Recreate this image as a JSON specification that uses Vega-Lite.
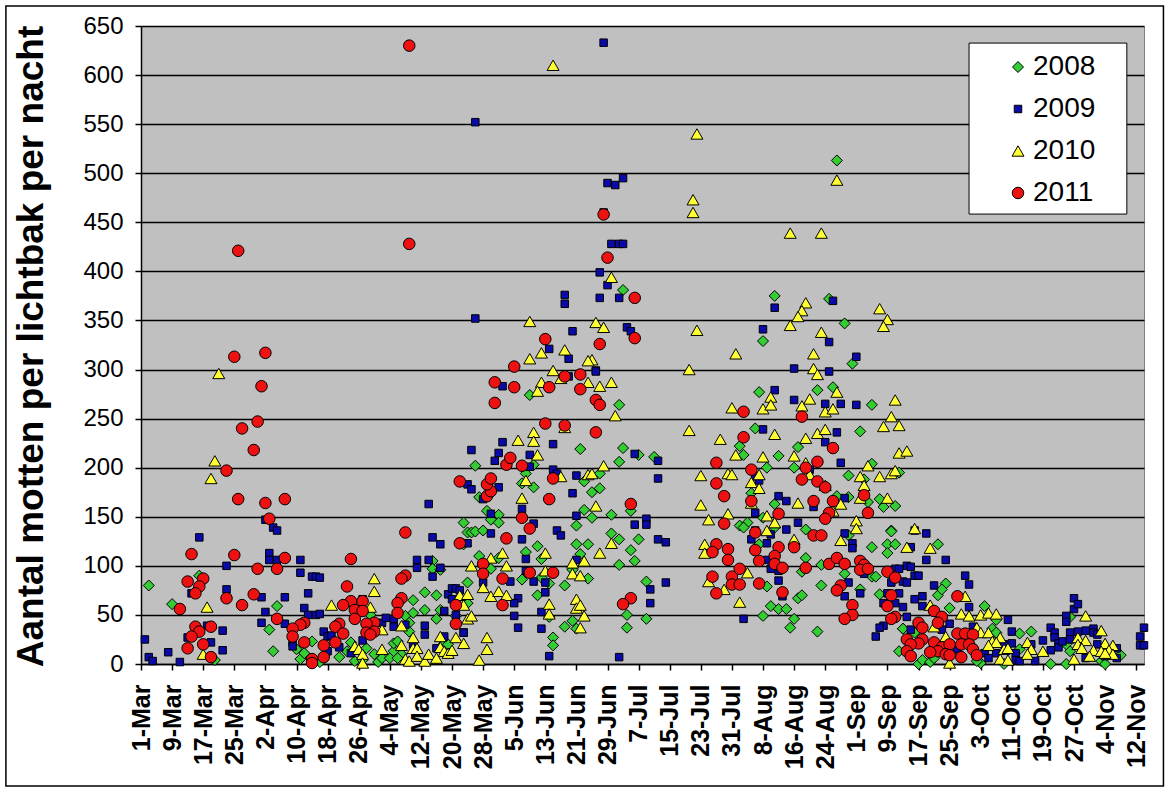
{"$schema":"https://vega.github.io/schema/vega-lite/v6.json","width":1003,"height":638,"autosize":"none","padding":{"left":141,"top":26,"right":31,"bottom":129},"background":"white","view":{"fill":"#C0C0C0","stroke":"#808080"},"config":{"font":"Liberation Sans"},"layer":[{"data":{"values":[{}]},"mark":{"type":"rect","fill":"transparent","stroke":"black","strokeWidth":1.5},"encoding":{"x":{"datum":{"year":2011,"month":1,"date":25,"hours":6,"utc":true},"type":"temporal"},"x2":{"datum":{"year":2011,"month":11,"date":19,"utc":true}},"y":{"datum":-124.3,"type":"quantitative"},"y2":{"datum":670.4}}},{"data":{"values":[{}]},"mark":{"type":"rect","fill":"white","stroke":"black","strokeWidth":1},"encoding":{"x":{"datum":{"year":2011,"month":9,"date":30,"utc":true},"type":"temporal"},"x2":{"datum":{"year":2011,"month":11,"date":9,"hours":14,"utc":true}},"y":{"datum":632.6,"type":"quantitative"},"y2":{"datum":458.4}}},{"data":{"values":[
{"j":"2008","d":"2011-03-03","v":80},{"j":"2008","d":"2011-03-09","v":61},{"j":"2008","d":"2011-03-16","v":90},{"j":"2008","d":"2011-03-20","v":4},{"j":"2008","d":"2011-04-03","v":35},{"j":"2008","d":"2011-04-04","v":13},{"j":"2008","d":"2011-04-05","v":59},{"j":"2008","d":"2011-04-10","v":15},{"j":"2008","d":"2011-04-11","v":5},{"j":"2008","d":"2011-04-12","v":11},{"j":"2008","d":"2011-04-14","v":23},{"j":"2008","d":"2011-04-16","v":2},{"j":"2008","d":"2011-04-21","v":7},{"j":"2008","d":"2011-04-23","v":13},{"j":"2008","d":"2011-04-24","v":22},{"j":"2008","d":"2011-04-25","v":3},{"j":"2008","d":"2011-04-27","v":4},{"j":"2008","d":"2011-04-28","v":16},{"j":"2008","d":"2011-04-29","v":50},{"j":"2008","d":"2011-04-30","v":10},{"j":"2008","d":"2011-05-01","v":2},{"j":"2008","d":"2011-05-02","v":6},{"j":"2008","d":"2011-05-04","v":6},{"j":"2008","d":"2011-05-05","v":13},{"j":"2008","d":"2011-05-05","v":21},{"j":"2008","d":"2011-05-06","v":23},{"j":"2008","d":"2011-05-07","v":10},{"j":"2008","d":"2011-05-06","v":6},{"j":"2008","d":"2011-05-08","v":49},{"j":"2008","d":"2011-05-10","v":65},{"j":"2008","d":"2011-05-10","v":52},{"j":"2008","d":"2011-05-09","v":42},{"j":"2008","d":"2011-05-09","v":33},{"j":"2008","d":"2011-05-13","v":73},{"j":"2008","d":"2011-05-16","v":70},{"j":"2008","d":"2011-05-13","v":55},{"j":"2008","d":"2011-05-16","v":46},{"j":"2008","d":"2011-05-17","v":55},{"j":"2008","d":"2011-05-15","v":105},{"j":"2008","d":"2011-05-15","v":97},{"j":"2008","d":"2011-05-17","v":96},{"j":"2008","d":"2011-05-23","v":144},{"j":"2008","d":"2011-05-23","v":122},{"j":"2008","d":"2011-05-24","v":83},{"j":"2008","d":"2011-05-24","v":62},{"j":"2008","d":"2011-05-24","v":134},{"j":"2008","d":"2011-05-18","v":21},{"j":"2008","d":"2011-05-19","v":20},{"j":"2008","d":"2011-05-21","v":49},{"j":"2008","d":"2011-05-26","v":202},{"j":"2008","d":"2011-05-27","v":170},{"j":"2008","d":"2011-05-29","v":156},{"j":"2008","d":"2011-05-30","v":147},{"j":"2008","d":"2011-06-01","v":152},{"j":"2008","d":"2011-06-01","v":144},{"j":"2008","d":"2011-05-25","v":134},{"j":"2008","d":"2011-05-26","v":135},{"j":"2008","d":"2011-05-28","v":136},{"j":"2008","d":"2011-05-27","v":110},{"j":"2008","d":"2011-05-30","v":97},{"j":"2008","d":"2011-06-01","v":108},{"j":"2008","d":"2011-06-09","v":274},{"j":"2008","d":"2011-06-08","v":194},{"j":"2008","d":"2011-06-07","v":184},{"j":"2008","d":"2011-06-10","v":180},{"j":"2008","d":"2011-06-10","v":203},{"j":"2008","d":"2011-06-08","v":114},{"j":"2008","d":"2011-06-11","v":120},{"j":"2008","d":"2011-06-12","v":107},{"j":"2008","d":"2011-06-07","v":86},{"j":"2008","d":"2011-06-12","v":88},{"j":"2008","d":"2011-06-14","v":82},{"j":"2008","d":"2011-06-11","v":70},{"j":"2008","d":"2011-06-18","v":80},{"j":"2008","d":"2011-06-24","v":87},{"j":"2008","d":"2011-06-21","v":141},{"j":"2008","d":"2011-06-21","v":122},{"j":"2008","d":"2011-06-24","v":122},{"j":"2008","d":"2011-06-22","v":112},{"j":"2008","d":"2011-06-23","v":157},{"j":"2008","d":"2011-06-25","v":149},{"j":"2008","d":"2011-06-30","v":152},{"j":"2008","d":"2011-06-30","v":133},{"j":"2008","d":"2011-07-02","v":127},{"j":"2008","d":"2011-07-02","v":101},{"j":"2008","d":"2011-07-07","v":127},{"j":"2008","d":"2011-07-05","v":116},{"j":"2008","d":"2011-07-06","v":105},{"j":"2008","d":"2011-07-09","v":84},{"j":"2008","d":"2011-07-04","v":50},{"j":"2008","d":"2011-07-09","v":46},{"j":"2008","d":"2011-07-04","v":37},{"j":"2008","d":"2011-07-05","v":156},{"j":"2008","d":"2011-06-23","v":186},{"j":"2008","d":"2011-06-25","v":175},{"j":"2008","d":"2011-06-27","v":179},{"j":"2008","d":"2011-06-27","v":194},{"j":"2008","d":"2011-07-02","v":206},{"j":"2008","d":"2011-07-03","v":220},{"j":"2008","d":"2011-07-07","v":213},{"j":"2008","d":"2011-07-11","v":211},{"j":"2008","d":"2011-07-02","v":264},{"j":"2008","d":"2011-06-22","v":219},{"j":"2008","d":"2011-06-18","v":38},{"j":"2008","d":"2011-06-20","v":44},{"j":"2008","d":"2011-06-21","v":36},{"j":"2008","d":"2011-06-15","v":27},{"j":"2008","d":"2011-06-15","v":19},{"j":"2008","d":"2011-06-14","v":48},{"j":"2008","d":"2011-06-20","v":96},{"j":"2008","d":"2011-07-03","v":381},{"j":"2008","d":"2011-08-27","v":513},{"j":"2008","d":"2011-08-11","v":375},{"j":"2008","d":"2011-08-25","v":372},{"j":"2008","d":"2011-08-08","v":329},{"j":"2008","d":"2011-08-29","v":347},{"j":"2008","d":"2011-08-31","v":306},{"j":"2008","d":"2011-08-07","v":277},{"j":"2008","d":"2011-08-22","v":279},{"j":"2008","d":"2011-08-26","v":282},{"j":"2008","d":"2011-09-05","v":264},{"j":"2008","d":"2011-08-06","v":240},{"j":"2008","d":"2011-09-02","v":237},{"j":"2008","d":"2011-08-02","v":222},{"j":"2008","d":"2011-08-03","v":213},{"j":"2008","d":"2011-08-12","v":212},{"j":"2008","d":"2011-08-17","v":221},{"j":"2008","d":"2011-08-16","v":200},{"j":"2008","d":"2011-08-09","v":200},{"j":"2008","d":"2011-08-30","v":192},{"j":"2008","d":"2011-09-03","v":188},{"j":"2008","d":"2011-09-05","v":204},{"j":"2008","d":"2011-09-12","v":195},{"j":"2008","d":"2011-08-05","v":174},{"j":"2008","d":"2011-08-11","v":163},{"j":"2008","d":"2011-08-27","v":171},{"j":"2008","d":"2011-08-30","v":170},{"j":"2008","d":"2011-09-04","v":165},{"j":"2008","d":"2011-09-07","v":168},{"j":"2008","d":"2011-09-08","v":160},{"j":"2008","d":"2011-09-11","v":161},{"j":"2008","d":"2011-08-08","v":149},{"j":"2008","d":"2011-08-02","v":141},{"j":"2008","d":"2011-08-04","v":144},{"j":"2008","d":"2011-08-03","v":139},{"j":"2008","d":"2011-08-11","v":139},{"j":"2008","d":"2011-08-19","v":137},{"j":"2008","d":"2011-08-30","v":131},{"j":"2008","d":"2011-09-10","v":136},{"j":"2008","d":"2011-09-05","v":119},{"j":"2008","d":"2011-09-09","v":122},{"j":"2008","d":"2011-09-11","v":122},{"j":"2008","d":"2011-09-09","v":113},{"j":"2008","d":"2011-08-07","v":122},{"j":"2008","d":"2011-08-19","v":108},{"j":"2008","d":"2011-08-23","v":101},{"j":"2008","d":"2011-08-29","v":92},{"j":"2008","d":"2011-09-05","v":89},{"j":"2008","d":"2011-08-18","v":94},{"j":"2008","d":"2011-08-09","v":79},{"j":"2008","d":"2011-08-23","v":80},{"j":"2008","d":"2011-09-02","v":76},{"j":"2008","d":"2011-09-07","v":71},{"j":"2008","d":"2011-08-17","v":67},{"j":"2008","d":"2011-08-18","v":70},{"j":"2008","d":"2011-08-10","v":59},{"j":"2008","d":"2011-08-12","v":56},{"j":"2008","d":"2011-08-14","v":56},{"j":"2008","d":"2011-08-08","v":49},{"j":"2008","d":"2011-08-16","v":46},{"j":"2008","d":"2011-08-15","v":37},{"j":"2008","d":"2011-08-22","v":33},{"j":"2008","d":"2011-09-13","v":36},{"j":"2008","d":"2011-09-12","v":13},{"j":"2008","d":"2011-09-16","v":32},{"j":"2008","d":"2011-09-17","v":0},{"j":"2008","d":"2011-09-18","v":4},{"j":"2008","d":"2011-09-20","v":2},{"j":"2008","d":"2011-09-21","v":6},{"j":"2008","d":"2011-09-22","v":122},{"j":"2008","d":"2011-09-22","v":70},{"j":"2008","d":"2011-09-24","v":82},{"j":"2008","d":"2011-09-23","v":76},{"j":"2008","d":"2011-09-25","v":57},{"j":"2008","d":"2011-09-10","v":135},{"j":"2008","d":"2011-09-06","v":89},{"j":"2008","d":"2011-09-13","v":36},{"j":"2008","d":"2011-10-04","v":59},{"j":"2008","d":"2011-10-06","v":36},{"j":"2008","d":"2011-10-07","v":32},{"j":"2008","d":"2011-10-07","v":45},{"j":"2008","d":"2011-10-03","v":1},{"j":"2008","d":"2011-10-02","v":3},{"j":"2008","d":"2011-10-09","v":0},{"j":"2008","d":"2011-10-13","v":31},{"j":"2008","d":"2011-10-16","v":33},{"j":"2008","d":"2011-10-13","v":15},{"j":"2008","d":"2011-10-21","v":0},{"j":"2008","d":"2011-10-25","v":0},{"j":"2008","d":"2011-10-25","v":20},{"j":"2008","d":"2011-10-26","v":48},{"j":"2008","d":"2011-11-03","v":3},{"j":"2008","d":"2011-11-04","v":0},{"j":"2008","d":"2011-11-08","v":9},{"j":"2008","d":"2011-10-26","v":13},
{"j":"2009","d":"2011-03-02","v":25},{"j":"2009","d":"2011-03-03","v":7},{"j":"2009","d":"2011-03-04","v":3},{"j":"2009","d":"2011-03-08","v":12},{"j":"2009","d":"2011-03-11","v":2},{"j":"2009","d":"2011-03-13","v":27},{"j":"2009","d":"2011-03-16","v":129},{"j":"2009","d":"2011-03-14","v":72},{"j":"2009","d":"2011-03-18","v":39},{"j":"2009","d":"2011-03-19","v":22},{"j":"2009","d":"2011-03-22","v":34},{"j":"2009","d":"2011-03-22","v":14},{"j":"2009","d":"2011-03-23","v":100},{"j":"2009","d":"2011-03-23","v":76},{"j":"2009","d":"2011-04-01","v":68},{"j":"2009","d":"2011-04-02","v":53},{"j":"2009","d":"2011-04-01","v":42},{"j":"2009","d":"2011-04-02","v":147},{"j":"2009","d":"2011-04-04","v":139},{"j":"2009","d":"2011-04-05","v":136},{"j":"2009","d":"2011-04-03","v":113},{"j":"2009","d":"2011-04-03","v":106},{"j":"2009","d":"2011-04-05","v":106},{"j":"2009","d":"2011-04-07","v":68},{"j":"2009","d":"2011-04-07","v":41},{"j":"2009","d":"2011-04-11","v":106},{"j":"2009","d":"2011-04-11","v":93},{"j":"2009","d":"2011-04-14","v":89},{"j":"2009","d":"2011-04-15","v":89},{"j":"2009","d":"2011-04-16","v":88},{"j":"2009","d":"2011-04-13","v":72},{"j":"2009","d":"2011-04-12","v":57},{"j":"2009","d":"2011-04-13","v":50},{"j":"2009","d":"2011-04-15","v":50},{"j":"2009","d":"2011-04-16","v":51},{"j":"2009","d":"2011-04-09","v":22},{"j":"2009","d":"2011-04-09","v":18},{"j":"2009","d":"2011-04-17","v":33},{"j":"2009","d":"2011-04-18","v":28},{"j":"2009","d":"2011-04-19","v":29},{"j":"2009","d":"2011-04-18","v":13},{"j":"2009","d":"2011-04-21","v":17},{"j":"2009","d":"2011-04-24","v":11},{"j":"2009","d":"2011-04-27","v":66},{"j":"2009","d":"2011-04-27","v":24},{"j":"2009","d":"2011-05-02","v":42},{"j":"2009","d":"2011-05-03","v":47},{"j":"2009","d":"2011-05-05","v":46},{"j":"2009","d":"2011-05-05","v":38},{"j":"2009","d":"2011-05-08","v":40},{"j":"2009","d":"2011-05-11","v":106},{"j":"2009","d":"2011-05-11","v":98},{"j":"2009","d":"2011-05-14","v":106},{"j":"2009","d":"2011-05-14","v":163},{"j":"2009","d":"2011-05-15","v":129},{"j":"2009","d":"2011-05-17","v":122},{"j":"2009","d":"2011-05-17","v":98},{"j":"2009","d":"2011-05-15","v":89},{"j":"2009","d":"2011-05-13","v":39},{"j":"2009","d":"2011-05-13","v":30},{"j":"2009","d":"2011-05-10","v":20},{"j":"2009","d":"2011-05-18","v":54},{"j":"2009","d":"2011-05-19","v":71},{"j":"2009","d":"2011-05-20","v":77},{"j":"2009","d":"2011-05-21","v":77},{"j":"2009","d":"2011-05-22","v":75},{"j":"2009","d":"2011-05-20","v":66},{"j":"2009","d":"2011-05-21","v":50},{"j":"2009","d":"2011-05-23","v":32},{"j":"2009","d":"2011-05-18","v":28},{"j":"2009","d":"2011-05-16","v":16},{"j":"2009","d":"2011-05-24","v":123},{"j":"2009","d":"2011-05-24","v":183},{"j":"2009","d":"2011-05-25","v":218},{"j":"2009","d":"2011-05-25","v":178},{"j":"2009","d":"2011-05-28","v":168},{"j":"2009","d":"2011-06-01","v":180},{"j":"2009","d":"2011-05-30","v":153},{"j":"2009","d":"2011-05-30","v":133},{"j":"2009","d":"2011-06-02","v":226},{"j":"2009","d":"2011-06-01","v":215},{"j":"2009","d":"2011-05-31","v":207},{"j":"2009","d":"2011-06-02","v":283},{"j":"2009","d":"2011-06-14","v":321},{"j":"2009","d":"2011-06-19","v":311},{"j":"2009","d":"2011-06-26","v":299},{"j":"2009","d":"2011-06-19","v":293},{"j":"2009","d":"2011-06-09","v":213},{"j":"2009","d":"2011-06-09","v":201},{"j":"2009","d":"2011-06-15","v":224},{"j":"2009","d":"2011-06-15","v":198},{"j":"2009","d":"2011-06-16","v":194},{"j":"2009","d":"2011-06-21","v":192},{"j":"2009","d":"2011-06-20","v":174},{"j":"2009","d":"2011-06-07","v":158},{"j":"2009","d":"2011-06-10","v":143},{"j":"2009","d":"2011-06-21","v":151},{"j":"2009","d":"2011-06-16","v":136},{"j":"2009","d":"2011-06-17","v":131},{"j":"2009","d":"2011-06-07","v":127},{"j":"2009","d":"2011-07-06","v":214},{"j":"2009","d":"2011-07-12","v":207},{"j":"2009","d":"2011-07-12","v":189},{"j":"2009","d":"2011-07-06","v":142},{"j":"2009","d":"2011-07-09","v":148},{"j":"2009","d":"2011-07-09","v":142},{"j":"2009","d":"2011-07-12","v":127},{"j":"2009","d":"2011-07-14","v":124},{"j":"2009","d":"2011-07-14","v":83},{"j":"2009","d":"2011-07-10","v":76},{"j":"2009","d":"2011-07-10","v":62},{"j":"2009","d":"2011-06-08","v":107},{"j":"2009","d":"2011-06-08","v":95},{"j":"2009","d":"2011-06-04","v":84},{"j":"2009","d":"2011-06-10","v":84},{"j":"2009","d":"2011-06-13","v":83},{"j":"2009","d":"2011-06-13","v":73},{"j":"2009","d":"2011-06-21","v":106},{"j":"2009","d":"2011-05-28","v":83},{"j":"2009","d":"2011-06-06","v":67},{"j":"2009","d":"2011-06-05","v":62},{"j":"2009","d":"2011-06-12","v":53},{"j":"2009","d":"2011-06-05","v":49},{"j":"2009","d":"2011-06-06","v":37},{"j":"2009","d":"2011-06-12","v":36},{"j":"2009","d":"2011-06-14","v":8},{"j":"2009","d":"2011-07-02","v":7},{"j":"2009","d":"2011-05-23","v":32},{"j":"2009","d":"2011-06-28","v":633},{"j":"2009","d":"2011-05-26","v":552},{"j":"2009","d":"2011-05-26","v":352},{"j":"2009","d":"2011-06-29","v":490},{"j":"2009","d":"2011-07-01","v":488},{"j":"2009","d":"2011-07-03","v":495},{"j":"2009","d":"2011-06-28","v":460},{"j":"2009","d":"2011-06-30","v":428},{"j":"2009","d":"2011-07-02","v":428},{"j":"2009","d":"2011-07-03","v":428},{"j":"2009","d":"2011-06-27","v":399},{"j":"2009","d":"2011-06-29","v":386},{"j":"2009","d":"2011-06-27","v":373},{"j":"2009","d":"2011-07-02","v":373},{"j":"2009","d":"2011-07-04","v":343},{"j":"2009","d":"2011-07-05","v":339},{"j":"2009","d":"2011-06-18","v":376},{"j":"2009","d":"2011-06-18","v":367},{"j":"2009","d":"2011-06-20","v":339},{"j":"2009","d":"2011-06-26","v":298},{"j":"2009","d":"2011-08-26","v":370},{"j":"2009","d":"2011-08-11","v":363},{"j":"2009","d":"2011-08-08","v":341},{"j":"2009","d":"2011-08-25","v":328},{"j":"2009","d":"2011-09-01","v":313},{"j":"2009","d":"2011-08-16","v":301},{"j":"2009","d":"2011-08-25","v":298},{"j":"2009","d":"2011-08-11","v":279},{"j":"2009","d":"2011-08-16","v":269},{"j":"2009","d":"2011-08-24","v":265},{"j":"2009","d":"2011-08-28","v":265},{"j":"2009","d":"2011-09-01","v":264},{"j":"2009","d":"2011-08-08","v":239},{"j":"2009","d":"2011-08-27","v":236},{"j":"2009","d":"2011-08-24","v":226},{"j":"2009","d":"2011-08-28","v":205},{"j":"2009","d":"2011-08-20","v":198},{"j":"2009","d":"2011-08-06","v":191},{"j":"2009","d":"2011-08-07","v":187},{"j":"2009","d":"2011-08-12","v":171},{"j":"2009","d":"2011-08-14","v":166},{"j":"2009","d":"2011-08-21","v":160},{"j":"2009","d":"2011-08-29","v":169},{"j":"2009","d":"2011-08-06","v":154},{"j":"2009","d":"2011-08-17","v":144},{"j":"2009","d":"2011-08-14","v":137},{"j":"2009","d":"2011-08-06","v":136},{"j":"2009","d":"2011-08-10","v":132},{"j":"2009","d":"2011-08-29","v":133},{"j":"2009","d":"2011-08-05","v":127},{"j":"2009","d":"2011-08-09","v":123},{"j":"2009","d":"2011-08-31","v":123},{"j":"2009","d":"2011-08-31","v":118},{"j":"2009","d":"2011-09-15","v":119},{"j":"2009","d":"2011-09-16","v":136},{"j":"2009","d":"2011-09-19","v":133},{"j":"2009","d":"2011-09-19","v":106},{"j":"2009","d":"2011-09-11","v":97},{"j":"2009","d":"2011-09-14","v":100},{"j":"2009","d":"2011-09-16","v":90},{"j":"2009","d":"2011-08-09","v":106},{"j":"2009","d":"2011-08-10","v":97},{"j":"2009","d":"2011-08-12","v":95},{"j":"2009","d":"2011-08-12","v":85},{"j":"2009","d":"2011-09-03","v":92},{"j":"2009","d":"2011-08-30","v":83},{"j":"2009","d":"2011-09-10","v":83},{"j":"2009","d":"2011-09-13","v":84},{"j":"2009","d":"2011-09-14","v":83},{"j":"2009","d":"2011-09-21","v":80},{"j":"2009","d":"2011-09-02","v":72},{"j":"2009","d":"2011-08-29","v":69},{"j":"2009","d":"2011-08-13","v":69},{"j":"2009","d":"2011-09-09","v":72},{"j":"2009","d":"2011-09-12","v":72},{"j":"2009","d":"2011-09-16","v":66},{"j":"2009","d":"2011-09-18","v":69},{"j":"2009","d":"2011-09-08","v":62},{"j":"2009","d":"2011-09-11","v":62},{"j":"2009","d":"2011-09-13","v":58},{"j":"2009","d":"2011-09-18","v":59},{"j":"2009","d":"2011-09-14","v":48},{"j":"2009","d":"2011-08-03","v":46},{"j":"2009","d":"2011-09-08","v":39},{"j":"2009","d":"2011-09-07","v":37},{"j":"2009","d":"2011-09-06","v":28},{"j":"2009","d":"2011-09-15","v":35},{"j":"2009","d":"2011-09-24","v":106},{"j":"2009","d":"2011-09-15","v":99},{"j":"2009","d":"2011-09-12","v":97},{"j":"2009","d":"2011-09-17","v":90},{"j":"2009","d":"2011-09-29","v":90},{"j":"2009","d":"2011-09-30","v":81},{"j":"2009","d":"2011-09-30","v":58},{"j":"2009","d":"2011-09-25","v":41},{"j":"2009","d":"2011-10-01","v":38},{"j":"2009","d":"2011-10-10","v":45},{"j":"2009","d":"2011-10-11","v":33},{"j":"2009","d":"2011-10-11","v":21},{"j":"2009","d":"2011-10-09","v":20},{"j":"2009","d":"2011-09-27","v":15},{"j":"2009","d":"2011-09-23","v":35},{"j":"2009","d":"2011-10-04","v":11},{"j":"2009","d":"2011-10-05","v":6},{"j":"2009","d":"2011-10-07","v":11},{"j":"2009","d":"2011-10-12","v":11},{"j":"2009","d":"2011-10-12","v":4},{"j":"2009","d":"2011-10-13","v":3},{"j":"2009","d":"2011-10-16","v":20},{"j":"2009","d":"2011-10-17","v":3},{"j":"2009","d":"2011-10-19","v":24},{"j":"2009","d":"2011-10-21","v":14},{"j":"2009","d":"2011-10-21","v":37},{"j":"2009","d":"2011-10-22","v":32},{"j":"2009","d":"2011-10-22","v":27},{"j":"2009","d":"2011-10-23","v":21},{"j":"2009","d":"2011-10-23","v":17},{"j":"2009","d":"2011-10-24","v":23},{"j":"2009","d":"2011-10-25","v":49},{"j":"2009","d":"2011-10-25","v":43},{"j":"2009","d":"2011-10-26","v":32},{"j":"2009","d":"2011-10-26","v":25},{"j":"2009","d":"2011-10-27","v":67},{"j":"2009","d":"2011-10-27","v":56},{"j":"2009","d":"2011-10-28","v":61},{"j":"2009","d":"2011-10-28","v":33},{"j":"2009","d":"2011-10-30","v":34},{"j":"2009","d":"2011-11-01","v":36},{"j":"2009","d":"2011-11-01","v":32},{"j":"2009","d":"2011-11-02","v":30},{"j":"2009","d":"2011-11-02","v":20},{"j":"2009","d":"2011-10-30","v":6},{"j":"2009","d":"2011-11-04","v":8},{"j":"2009","d":"2011-11-07","v":16},{"j":"2009","d":"2011-11-07","v":6},{"j":"2009","d":"2011-11-13","v":19},{"j":"2009","d":"2011-11-14","v":19},{"j":"2009","d":"2011-11-13","v":28},{"j":"2009","d":"2011-11-14","v":37},
{"j":"2010","d":"2011-03-21","v":296},{"j":"2010","d":"2011-03-20","v":207},{"j":"2010","d":"2011-03-19","v":189},{"j":"2010","d":"2011-03-18","v":58},{"j":"2010","d":"2011-03-17","v":10},{"j":"2010","d":"2011-04-19","v":60},{"j":"2010","d":"2011-04-30","v":87},{"j":"2010","d":"2011-04-30","v":74},{"j":"2010","d":"2011-04-29","v":58},{"j":"2010","d":"2011-04-25","v":18},{"j":"2010","d":"2011-04-26","v":15},{"j":"2010","d":"2011-04-27","v":10},{"j":"2010","d":"2011-04-27","v":1},{"j":"2010","d":"2011-05-02","v":35},{"j":"2010","d":"2011-05-02","v":15},{"j":"2010","d":"2011-05-07","v":39},{"j":"2010","d":"2011-05-07","v":19},{"j":"2010","d":"2011-05-08","v":5},{"j":"2010","d":"2011-05-09","v":3},{"j":"2010","d":"2011-05-10","v":27},{"j":"2010","d":"2011-05-10","v":16},{"j":"2010","d":"2011-05-11","v":16},{"j":"2010","d":"2011-05-11","v":8},{"j":"2010","d":"2011-05-13","v":3},{"j":"2010","d":"2011-05-14","v":10},{"j":"2010","d":"2011-05-16","v":6},{"j":"2010","d":"2011-05-17","v":28},{"j":"2010","d":"2011-05-17","v":17},{"j":"2010","d":"2011-05-18","v":13},{"j":"2010","d":"2011-05-19","v":11},{"j":"2010","d":"2011-05-20","v":14},{"j":"2010","d":"2011-05-21","v":27},{"j":"2010","d":"2011-05-23","v":21},{"j":"2010","d":"2011-05-22","v":70},{"j":"2010","d":"2011-05-23","v":60},{"j":"2010","d":"2011-05-24","v":71},{"j":"2010","d":"2011-05-24","v":46},{"j":"2010","d":"2011-05-25","v":49},{"j":"2010","d":"2011-05-25","v":100},{"j":"2010","d":"2011-05-28","v":78},{"j":"2010","d":"2011-05-30","v":69},{"j":"2010","d":"2011-06-01","v":74},{"j":"2010","d":"2011-06-03","v":70},{"j":"2010","d":"2011-06-03","v":100},{"j":"2010","d":"2011-05-30","v":108},{"j":"2010","d":"2011-06-02","v":113},{"j":"2010","d":"2011-05-29","v":27},{"j":"2010","d":"2011-05-29","v":15},{"j":"2010","d":"2011-05-27","v":4},{"j":"2010","d":"2011-06-06","v":228},{"j":"2010","d":"2011-06-10","v":236},{"j":"2010","d":"2011-06-10","v":227},{"j":"2010","d":"2011-06-11","v":213},{"j":"2010","d":"2011-06-08","v":187},{"j":"2010","d":"2011-06-07","v":169},{"j":"2010","d":"2011-06-13","v":113},{"j":"2010","d":"2011-06-13","v":95},{"j":"2010","d":"2011-06-14","v":61},{"j":"2010","d":"2011-06-14","v":51},{"j":"2010","d":"2011-06-20","v":103},{"j":"2010","d":"2011-06-20","v":92},{"j":"2010","d":"2011-06-22","v":90},{"j":"2010","d":"2011-06-23","v":105},{"j":"2010","d":"2011-06-21","v":66},{"j":"2010","d":"2011-06-21","v":57},{"j":"2010","d":"2011-06-22","v":60},{"j":"2010","d":"2011-06-23","v":49},{"j":"2010","d":"2011-06-22","v":37},{"j":"2010","d":"2011-06-27","v":113},{"j":"2010","d":"2011-06-30","v":123},{"j":"2010","d":"2011-06-26","v":161},{"j":"2010","d":"2011-06-17","v":191},{"j":"2010","d":"2011-06-24","v":193},{"j":"2010","d":"2011-06-25","v":194},{"j":"2010","d":"2011-06-28","v":202},{"j":"2010","d":"2011-07-01","v":253},{"j":"2010","d":"2011-06-18","v":241},{"j":"2010","d":"2011-06-12","v":287},{"j":"2010","d":"2011-06-11","v":278},{"j":"2010","d":"2011-06-17","v":291},{"j":"2010","d":"2011-06-24","v":287},{"j":"2010","d":"2011-06-27","v":283},{"j":"2010","d":"2011-06-30","v":287},{"j":"2010","d":"2011-06-15","v":299},{"j":"2010","d":"2011-06-09","v":311},{"j":"2010","d":"2011-06-12","v":317},{"j":"2010","d":"2011-06-18","v":320},{"j":"2010","d":"2011-06-25","v":310},{"j":"2010","d":"2011-06-15","v":610},{"j":"2010","d":"2011-06-09","v":349},{"j":"2010","d":"2011-06-26","v":348},{"j":"2010","d":"2011-06-28","v":343},{"j":"2010","d":"2011-06-24","v":309},{"j":"2010","d":"2011-06-30","v":394},{"j":"2010","d":"2011-07-22","v":540},{"j":"2010","d":"2011-07-21","v":473},{"j":"2010","d":"2011-07-21","v":460},{"j":"2010","d":"2011-07-22","v":340},{"j":"2010","d":"2011-07-20","v":300},{"j":"2010","d":"2011-07-20","v":238},{"j":"2010","d":"2011-08-27","v":493},{"j":"2010","d":"2011-08-15","v":439},{"j":"2010","d":"2011-08-23","v":439},{"j":"2010","d":"2011-08-19","v":368},{"j":"2010","d":"2011-08-18","v":360},{"j":"2010","d":"2011-08-17","v":354},{"j":"2010","d":"2011-08-15","v":345},{"j":"2010","d":"2011-08-23","v":338},{"j":"2010","d":"2011-09-07","v":362},{"j":"2010","d":"2011-09-09","v":351},{"j":"2010","d":"2011-09-08","v":344},{"j":"2010","d":"2011-08-01","v":316},{"j":"2010","d":"2011-08-21","v":316},{"j":"2010","d":"2011-08-21","v":301},{"j":"2010","d":"2011-08-22","v":295},{"j":"2010","d":"2011-07-31","v":261},{"j":"2010","d":"2011-08-08","v":260},{"j":"2010","d":"2011-08-10","v":272},{"j":"2010","d":"2011-08-10","v":264},{"j":"2010","d":"2011-08-20","v":270},{"j":"2010","d":"2011-08-18","v":263},{"j":"2010","d":"2011-08-24","v":257},{"j":"2010","d":"2011-08-26","v":260},{"j":"2010","d":"2011-08-27","v":277},{"j":"2010","d":"2011-07-28","v":229},{"j":"2010","d":"2011-08-11","v":234},{"j":"2010","d":"2011-08-19","v":230},{"j":"2010","d":"2011-08-22","v":235},{"j":"2010","d":"2011-08-24","v":239},{"j":"2010","d":"2011-08-01","v":213},{"j":"2010","d":"2011-08-08","v":211},{"j":"2010","d":"2011-08-16","v":212},{"j":"2010","d":"2011-07-23","v":192},{"j":"2010","d":"2011-07-30","v":194},{"j":"2010","d":"2011-07-31","v":193},{"j":"2010","d":"2011-08-19","v":205},{"j":"2010","d":"2011-08-07","v":193},{"j":"2010","d":"2011-08-05","v":185},{"j":"2010","d":"2011-08-07","v":179},{"j":"2010","d":"2011-08-20","v":193},{"j":"2010","d":"2011-08-24","v":182},{"j":"2010","d":"2011-07-23","v":162},{"j":"2010","d":"2011-07-25","v":147},{"j":"2010","d":"2011-07-30","v":153},{"j":"2010","d":"2011-08-05","v":164},{"j":"2010","d":"2011-08-09","v":151},{"j":"2010","d":"2011-08-17","v":164},{"j":"2010","d":"2011-08-11","v":144},{"j":"2010","d":"2011-08-09","v":136},{"j":"2010","d":"2011-08-16","v":127},{"j":"2010","d":"2011-07-24","v":122},{"j":"2010","d":"2011-07-24","v":113},{"j":"2010","d":"2011-07-25","v":84},{"j":"2010","d":"2011-07-29","v":76},{"j":"2010","d":"2011-08-04","v":93},{"j":"2010","d":"2011-08-02","v":63},{"j":"2010","d":"2011-08-28","v":163},{"j":"2010","d":"2011-08-26","v":156},{"j":"2010","d":"2011-09-01","v":146},{"j":"2010","d":"2011-09-01","v":138},{"j":"2010","d":"2011-08-28","v":126},{"j":"2010","d":"2011-09-04","v":202},{"j":"2010","d":"2011-09-02","v":191},{"j":"2010","d":"2011-09-03","v":182},{"j":"2010","d":"2011-09-07","v":191},{"j":"2010","d":"2011-09-02","v":169},{"j":"2010","d":"2011-09-10","v":194},{"j":"2010","d":"2011-09-11","v":197},{"j":"2010","d":"2011-09-09","v":169},{"j":"2010","d":"2011-09-11","v":269},{"j":"2010","d":"2011-09-10","v":252},{"j":"2010","d":"2011-09-08","v":242},{"j":"2010","d":"2011-09-12","v":243},{"j":"2010","d":"2011-09-12","v":215},{"j":"2010","d":"2011-09-14","v":217},{"j":"2010","d":"2011-09-16","v":138},{"j":"2010","d":"2011-09-14","v":119},{"j":"2010","d":"2011-09-20","v":118},{"j":"2010","d":"2011-09-20","v":60},{"j":"2010","d":"2011-09-21","v":38},{"j":"2010","d":"2011-09-29","v":69},{"j":"2010","d":"2011-09-24","v":28},{"j":"2010","d":"2011-09-25","v":1},{"j":"2010","d":"2011-09-28","v":51},{"j":"2010","d":"2011-09-30","v":49},{"j":"2010","d":"2011-10-03","v":50},{"j":"2010","d":"2011-10-05","v":52},{"j":"2010","d":"2011-10-07","v":51},{"j":"2010","d":"2011-10-02","v":37},{"j":"2010","d":"2011-10-03","v":32},{"j":"2010","d":"2011-10-05","v":32},{"j":"2010","d":"2011-10-08","v":27},{"j":"2010","d":"2011-10-06","v":23},{"j":"2010","d":"2011-10-07","v":22},{"j":"2010","d":"2011-10-05","v":19},{"j":"2010","d":"2011-10-09","v":15},{"j":"2010","d":"2011-10-10","v":16},{"j":"2010","d":"2011-10-08","v":5},{"j":"2010","d":"2011-10-10","v":4},{"j":"2010","d":"2011-10-15","v":22},{"j":"2010","d":"2011-10-16","v":15},{"j":"2010","d":"2011-10-15","v":10},{"j":"2010","d":"2011-10-19","v":13},{"j":"2010","d":"2011-10-30","v":49},{"j":"2010","d":"2011-10-28","v":27},{"j":"2010","d":"2011-10-28","v":20},{"j":"2010","d":"2011-10-30","v":24},{"j":"2010","d":"2011-10-29","v":16},{"j":"2010","d":"2011-11-01","v":14},{"j":"2010","d":"2011-10-31","v":8},{"j":"2010","d":"2011-10-27","v":5},{"j":"2010","d":"2011-11-03","v":34},{"j":"2010","d":"2011-11-04","v":21},{"j":"2010","d":"2011-11-06","v":19},{"j":"2010","d":"2011-11-03","v":13},{"j":"2010","d":"2011-11-05","v":14},{"j":"2010","d":"2011-11-06","v":10},{"j":"2010","d":"2011-11-04","v":11},
{"j":"2011","d":"2011-03-25","v":313},{"j":"2011","d":"2011-04-02","v":317},{"j":"2011","d":"2011-04-01","v":283},{"j":"2011","d":"2011-03-26","v":421},{"j":"2011","d":"2011-03-31","v":247},{"j":"2011","d":"2011-03-27","v":240},{"j":"2011","d":"2011-03-30","v":218},{"j":"2011","d":"2011-03-23","v":197},{"j":"2011","d":"2011-03-26","v":168},{"j":"2011","d":"2011-04-02","v":164},{"j":"2011","d":"2011-04-07","v":168},{"j":"2011","d":"2011-04-03","v":148},{"j":"2011","d":"2011-03-14","v":112},{"j":"2011","d":"2011-03-25","v":111},{"j":"2011","d":"2011-04-07","v":108},{"j":"2011","d":"2011-03-31","v":97},{"j":"2011","d":"2011-04-05","v":97},{"j":"2011","d":"2011-03-13","v":84},{"j":"2011","d":"2011-03-17","v":87},{"j":"2011","d":"2011-03-16","v":79},{"j":"2011","d":"2011-03-15","v":72},{"j":"2011","d":"2011-03-23","v":67},{"j":"2011","d":"2011-03-30","v":71},{"j":"2011","d":"2011-03-27","v":60},{"j":"2011","d":"2011-03-11","v":56},{"j":"2011","d":"2011-04-05","v":46},{"j":"2011","d":"2011-03-15","v":38},{"j":"2011","d":"2011-03-19","v":38},{"j":"2011","d":"2011-03-16","v":33},{"j":"2011","d":"2011-03-14","v":28},{"j":"2011","d":"2011-03-17","v":20},{"j":"2011","d":"2011-03-13","v":16},{"j":"2011","d":"2011-03-19","v":7},{"j":"2011","d":"2011-04-24","v":107},{"j":"2011","d":"2011-04-23","v":79},{"j":"2011","d":"2011-04-24","v":64},{"j":"2011","d":"2011-04-22","v":60},{"j":"2011","d":"2011-04-27","v":64},{"j":"2011","d":"2011-04-25","v":55},{"j":"2011","d":"2011-04-27","v":54},{"j":"2011","d":"2011-04-25","v":46},{"j":"2011","d":"2011-05-08","v":134},{"j":"2011","d":"2011-05-08","v":90},{"j":"2011","d":"2011-05-07","v":87},{"j":"2011","d":"2011-05-07","v":67},{"j":"2011","d":"2011-05-06","v":62},{"j":"2011","d":"2011-05-06","v":52},{"j":"2011","d":"2011-04-30","v":42},{"j":"2011","d":"2011-04-28","v":41},{"j":"2011","d":"2011-04-30","v":33},{"j":"2011","d":"2011-04-28","v":32},{"j":"2011","d":"2011-04-29","v":30},{"j":"2011","d":"2011-04-21","v":41},{"j":"2011","d":"2011-04-20","v":38},{"j":"2011","d":"2011-04-22","v":31},{"j":"2011","d":"2011-04-20","v":22},{"j":"2011","d":"2011-04-12","v":42},{"j":"2011","d":"2011-04-11","v":40},{"j":"2011","d":"2011-04-09","v":36},{"j":"2011","d":"2011-04-09","v":28},{"j":"2011","d":"2011-04-12","v":22},{"j":"2011","d":"2011-04-17","v":19},{"j":"2011","d":"2011-04-17","v":7},{"j":"2011","d":"2011-04-14","v":5},{"j":"2011","d":"2011-04-14","v":1},{"j":"2011","d":"2011-05-21","v":60},{"j":"2011","d":"2011-05-21","v":41},{"j":"2011","d":"2011-05-22","v":123},{"j":"2011","d":"2011-05-22","v":186},{"j":"2011","d":"2011-05-09","v":630},{"j":"2011","d":"2011-05-09","v":428},{"j":"2011","d":"2011-05-28","v":102},{"j":"2011","d":"2011-05-28","v":92},{"j":"2011","d":"2011-06-02","v":87},{"j":"2011","d":"2011-06-02","v":60},{"j":"2011","d":"2011-06-03","v":128},{"j":"2011","d":"2011-06-07","v":149},{"j":"2011","d":"2011-06-09","v":138},{"j":"2011","d":"2011-06-14","v":168},{"j":"2011","d":"2011-06-09","v":93},{"j":"2011","d":"2011-06-15","v":93},{"j":"2011","d":"2011-06-15","v":189},{"j":"2011","d":"2011-05-31","v":287},{"j":"2011","d":"2011-05-31","v":266},{"j":"2011","d":"2011-06-05","v":303},{"j":"2011","d":"2011-06-05","v":282},{"j":"2011","d":"2011-06-14","v":282},{"j":"2011","d":"2011-05-29","v":171},{"j":"2011","d":"2011-05-30","v":176},{"j":"2011","d":"2011-05-29","v":183},{"j":"2011","d":"2011-05-30","v":189},{"j":"2011","d":"2011-06-03","v":203},{"j":"2011","d":"2011-06-04","v":210},{"j":"2011","d":"2011-06-07","v":202},{"j":"2011","d":"2011-06-13","v":245},{"j":"2011","d":"2011-06-18","v":243},{"j":"2011","d":"2011-06-26","v":236},{"j":"2011","d":"2011-06-18","v":293},{"j":"2011","d":"2011-06-22","v":295},{"j":"2011","d":"2011-06-22","v":280},{"j":"2011","d":"2011-06-26","v":269},{"j":"2011","d":"2011-06-27","v":264},{"j":"2011","d":"2011-06-13","v":331},{"j":"2011","d":"2011-06-27","v":326},{"j":"2011","d":"2011-07-06","v":332},{"j":"2011","d":"2011-07-05","v":163},{"j":"2011","d":"2011-07-05","v":67},{"j":"2011","d":"2011-07-03","v":61},{"j":"2011","d":"2011-06-28","v":458},{"j":"2011","d":"2011-06-29","v":414},{"j":"2011","d":"2011-07-06","v":373},{"j":"2011","d":"2011-08-03","v":257},{"j":"2011","d":"2011-08-18","v":252},{"j":"2011","d":"2011-08-03","v":231},{"j":"2011","d":"2011-08-26","v":220},{"j":"2011","d":"2011-07-27","v":205},{"j":"2011","d":"2011-07-27","v":184},{"j":"2011","d":"2011-07-29","v":171},{"j":"2011","d":"2011-07-29","v":143},{"j":"2011","d":"2011-08-05","v":198},{"j":"2011","d":"2011-08-05","v":166},{"j":"2011","d":"2011-08-12","v":153},{"j":"2011","d":"2011-08-06","v":134},{"j":"2011","d":"2011-08-06","v":116},{"j":"2011","d":"2011-07-27","v":122},{"j":"2011","d":"2011-07-26","v":114},{"j":"2011","d":"2011-07-30","v":117},{"j":"2011","d":"2011-07-30","v":106},{"j":"2011","d":"2011-07-26","v":89},{"j":"2011","d":"2011-07-27","v":72},{"j":"2011","d":"2011-07-31","v":89},{"j":"2011","d":"2011-08-02","v":97},{"j":"2011","d":"2011-07-31","v":81},{"j":"2011","d":"2011-08-02","v":81},{"j":"2011","d":"2011-08-07","v":105},{"j":"2011","d":"2011-08-07","v":82},{"j":"2011","d":"2011-08-12","v":119},{"j":"2011","d":"2011-08-11","v":110},{"j":"2011","d":"2011-08-11","v":102},{"j":"2011","d":"2011-08-13","v":98},{"j":"2011","d":"2011-08-16","v":119},{"j":"2011","d":"2011-08-13","v":73},{"j":"2011","d":"2011-08-19","v":98},{"j":"2011","d":"2011-08-19","v":200},{"j":"2011","d":"2011-08-22","v":206},{"j":"2011","d":"2011-08-18","v":188},{"j":"2011","d":"2011-08-22","v":186},{"j":"2011","d":"2011-08-24","v":180},{"j":"2011","d":"2011-08-21","v":166},{"j":"2011","d":"2011-08-26","v":166},{"j":"2011","d":"2011-08-25","v":154},{"j":"2011","d":"2011-08-24","v":148},{"j":"2011","d":"2011-08-21","v":131},{"j":"2011","d":"2011-08-23","v":131},{"j":"2011","d":"2011-09-03","v":172},{"j":"2011","d":"2011-09-04","v":154},{"j":"2011","d":"2011-08-25","v":102},{"j":"2011","d":"2011-08-27","v":108},{"j":"2011","d":"2011-08-29","v":102},{"j":"2011","d":"2011-09-02","v":105},{"j":"2011","d":"2011-09-03","v":101},{"j":"2011","d":"2011-09-02","v":96},{"j":"2011","d":"2011-09-04","v":97},{"j":"2011","d":"2011-09-09","v":94},{"j":"2011","d":"2011-09-11","v":88},{"j":"2011","d":"2011-09-10","v":70},{"j":"2011","d":"2011-09-09","v":59},{"j":"2011","d":"2011-08-28","v":80},{"j":"2011","d":"2011-08-27","v":75},{"j":"2011","d":"2011-08-31","v":60},{"j":"2011","d":"2011-08-31","v":50},{"j":"2011","d":"2011-08-29","v":46},{"j":"2011","d":"2011-09-11","v":48},{"j":"2011","d":"2011-09-10","v":46},{"j":"2011","d":"2011-09-27","v":69},{"j":"2011","d":"2011-09-21","v":54},{"j":"2011","d":"2011-09-23","v":48},{"j":"2011","d":"2011-09-22","v":42},{"j":"2011","d":"2011-09-17","v":42},{"j":"2011","d":"2011-09-18","v":37},{"j":"2011","d":"2011-09-18","v":25},{"j":"2011","d":"2011-09-17","v":21},{"j":"2011","d":"2011-09-14","v":25},{"j":"2011","d":"2011-09-15","v":20},{"j":"2011","d":"2011-09-14","v":13},{"j":"2011","d":"2011-09-15","v":8},{"j":"2011","d":"2011-09-21","v":22},{"j":"2011","d":"2011-09-23","v":17},{"j":"2011","d":"2011-09-22","v":13},{"j":"2011","d":"2011-09-20","v":12},{"j":"2011","d":"2011-09-25","v":20},{"j":"2011","d":"2011-09-24","v":10},{"j":"2011","d":"2011-09-25","v":9},{"j":"2011","d":"2011-09-27","v":31},{"j":"2011","d":"2011-09-29","v":31},{"j":"2011","d":"2011-10-01","v":30},{"j":"2011","d":"2011-09-28","v":20},{"j":"2011","d":"2011-09-30","v":20},{"j":"2011","d":"2011-09-28","v":7},{"j":"2011","d":"2011-10-01","v":15},{"j":"2011","d":"2011-10-02","v":9}
]},"mark":{"type":"point","filled":true,"stroke":"black","strokeWidth":1,"opacity":1},"encoding":{"x":{"field":"d","type":"temporal","scale":{"type":"utc","domain":[{"year":2011,"month":3,"date":1,"utc":true},{"year":2011,"month":11,"date":14,"utc":true}],"nice":false},"axis":{"title":null,"format":"%-d-%b","grid":false,"tickCount":40,"values":[{"year":2011,"month":3,"date":1,"utc":true},{"year":2011,"month":3,"date":9,"utc":true},{"year":2011,"month":3,"date":17,"utc":true},{"year":2011,"month":3,"date":25,"utc":true},{"year":2011,"month":4,"date":2,"utc":true},{"year":2011,"month":4,"date":10,"utc":true},{"year":2011,"month":4,"date":18,"utc":true},{"year":2011,"month":4,"date":26,"utc":true},{"year":2011,"month":5,"date":4,"utc":true},{"year":2011,"month":5,"date":12,"utc":true},{"year":2011,"month":5,"date":20,"utc":true},{"year":2011,"month":5,"date":28,"utc":true},{"year":2011,"month":6,"date":5,"utc":true},{"year":2011,"month":6,"date":13,"utc":true},{"year":2011,"month":6,"date":21,"utc":true},{"year":2011,"month":6,"date":29,"utc":true},{"year":2011,"month":7,"date":7,"utc":true},{"year":2011,"month":7,"date":15,"utc":true},{"year":2011,"month":7,"date":23,"utc":true},{"year":2011,"month":7,"date":31,"utc":true},{"year":2011,"month":8,"date":8,"utc":true},{"year":2011,"month":8,"date":16,"utc":true},{"year":2011,"month":8,"date":24,"utc":true},{"year":2011,"month":9,"date":1,"utc":true},{"year":2011,"month":9,"date":9,"utc":true},{"year":2011,"month":9,"date":17,"utc":true},{"year":2011,"month":9,"date":25,"utc":true},{"year":2011,"month":10,"date":3,"utc":true},{"year":2011,"month":10,"date":11,"utc":true},{"year":2011,"month":10,"date":19,"utc":true},{"year":2011,"month":10,"date":27,"utc":true},{"year":2011,"month":11,"date":4,"utc":true},{"year":2011,"month":11,"date":12,"utc":true}],"labelAngle":-90,"labelAlign":"right","labelBaseline":"middle","labelFontSize":25,"labelColor":"black","labelFontWeight":"bold","labelOverlap":false,"labelBound":false,"labelFlush":false,"labelPadding":14,"tickSize":6,"tickColor":"black","tickWidth":1.5,"domainColor":"black","domainWidth":1.5}},"y":{"field":"v","type":"quantitative","scale":{"domain":[0,650],"nice":false},"axis":{"title":"Aantal motten per lichtbak per nacht","values":[0,50,100,150,200,250,300,350,400,450,500,550,600,650],"grid":true,"gridColor":"black","gridWidth":1.3,"labelFontSize":24,"labelColor":"black","labelPadding":12,"tickSize":6,"tickColor":"black","tickWidth":1.5,"domainColor":"black","domainWidth":1.5,"titleFontSize":37,"titleFontWeight":"bold","titleColor":"black","titleX":-91,"titleY":320,"titleAngle":-90,"titleAlign":"center"}},"color":{"field":"j","type":"nominal","scale":{"domain":["2008","2009","2010","2011"],"range":["#33CC33","#0A0AA8","#FFFF33","#EE1111"]},"legend":{"title":null,"orient":"none","legendX":863,"legendY":27,"padding":0,"labelFontSize":28,"labelColor":"black","labelOffset":1,"rowPadding":14,"symbolStrokeColor":"black","symbolStrokeWidth":1,"symbolOpacity":1,"labelLimit":200}},"shape":{"field":"j","type":"nominal","scale":{"domain":["2008","2009","2010","2011"],"range":["diamond","square","triangle-up","circle"]}},"size":{"field":"j","type":"nominal","scale":{"type":"ordinal","domain":["2008","2009","2010","2011"],"range":[121,56,144,133]}}}}]}
